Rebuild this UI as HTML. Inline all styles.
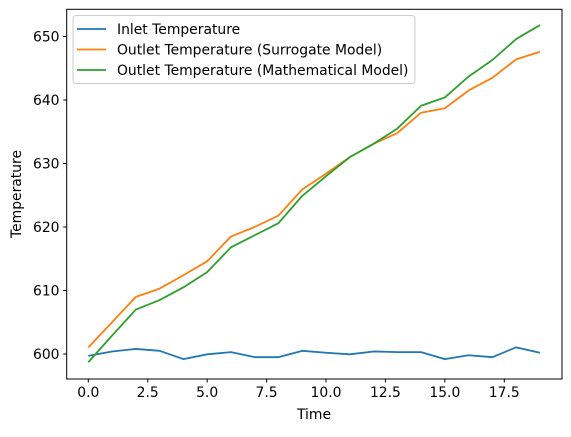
<!DOCTYPE html>
<html><head><meta charset="utf-8"><style>
html,body{margin:0;padding:0;background:#fff;}
svg text{font-family:"DejaVu Sans","Liberation Sans",sans-serif;font-size:13.9px;fill:#000;}
</style></head><body>
<svg id="chart" width="571" height="432" viewBox="0 0 571 432" xmlns="http://www.w3.org/2000/svg">
<rect width="571" height="432" fill="#fff"/>
<g id="series"></g>
<rect x="66.7" y="9.3" width="495.3" height="369.7" fill="none" stroke="#000" stroke-width="1"/>
<g id="axes"></g>
<text x="314" y="419" text-anchor="middle">Time</text>
<text transform="translate(21,194) rotate(-90)" text-anchor="middle">Temperature</text>
<g>
<rect x="73" y="15.5" width="342" height="68" rx="3" fill="#fff" fill-opacity="0.8" stroke="#ccc"/>
<line x1="77" y1="29" x2="106" y2="29" stroke="#1f77b4" stroke-width="1.8"/>
<text x="117" y="34">Inlet Temperature</text>
<line x1="77" y1="49.5" x2="106" y2="49.5" stroke="#ff7f0e" stroke-width="1.8"/>
<text x="117" y="54.5">Outlet Temperature (Surrogate Model)</text>
<line x1="77" y1="70" x2="106" y2="70" stroke="#2ca02c" stroke-width="1.8"/>
<text x="117" y="75">Outlet Temperature (Mathematical Model)</text>
</g>
</svg>
<script>
const times = [0,1,2,3,4,5,6,7,8,9,10,11,12,13,14,15,16,17,18,19];
const inlet = [599.7,600.4,600.8,600.5,599.2,599.95,600.3,599.5,599.5,600.5,600.2,599.95,600.4,600.3,600.3,599.2,599.8,599.5,601.05,600.2];
const surrogate = [601.05,605.0,609.0,610.3,612.4,614.6,618.5,620.0,621.8,625.9,628.4,631.0,633.1,634.8,638.0,638.7,641.5,643.5,646.4,647.6];
const mathematical = [598.7,602.9,607.0,608.5,610.5,612.9,616.8,618.7,620.6,624.9,628.0,631.0,633.1,635.5,639.1,640.4,643.7,646.3,649.6,651.8];
const xTicks = [0,2.5,5,7.5,10,12.5,15,17.5];
const xTickLabels = ["0.0","2.5","5.0","7.5","10.0","12.5","15.0","17.5"];
const yTicks = [600,610,620,630,640,650];
const yTickLabels = ["600","610","620","630","640","650"];

const NS="http://www.w3.org/2000/svg";
const xs = v => 88.3 + v*23.77;
const ys = v => 354 - (v-600)*6.35;
const axes=document.getElementById('axes');
xTicks.forEach((t,i)=>{
  const l=document.createElementNS(NS,'line');
  l.setAttribute('x1',xs(t));l.setAttribute('x2',xs(t));l.setAttribute('y1',379);l.setAttribute('y2',382.5);l.setAttribute('stroke','#000');
  
  
  axes.appendChild(l);
  const tx=document.createElementNS(NS,'text');
  tx.setAttribute('x',xs(t));tx.setAttribute('y',397);tx.setAttribute('text-anchor','middle');tx.textContent=xTickLabels[i];
  
  
  axes.appendChild(tx);
});
yTicks.forEach((t,i)=>{
  const l=document.createElementNS(NS,'line');
  l.setAttribute('x1',63.2);l.setAttribute('x2',66.7);l.setAttribute('y1',ys(t));l.setAttribute('y2',ys(t));l.setAttribute('stroke','#000');
  
  
  axes.appendChild(l);
  const tx=document.createElementNS(NS,'text');
  tx.setAttribute('x',59.5);tx.setAttribute('y',ys(t)+5);tx.setAttribute('text-anchor','end');tx.textContent=yTickLabels[i];
  
  
  axes.appendChild(tx);
});
const series=document.getElementById('series');
function draw(vals,color,name){
  const p=document.createElementNS(NS,'polyline');
  p.setAttribute('points',vals.map((v,i)=>xs(times[i])+','+ys(v)).join(' '));
  p.setAttribute('fill','none');p.setAttribute('stroke',color);p.setAttribute('stroke-width','1.8');p.setAttribute('stroke-linejoin','round');
  
  
  series.appendChild(p);
}
draw(inlet,'#1f77b4','inlet-line');
draw(surrogate,'#ff7f0e','surrogate-line');
draw(mathematical,'#2ca02c','mathematical-line');
</script>
</body></html>
